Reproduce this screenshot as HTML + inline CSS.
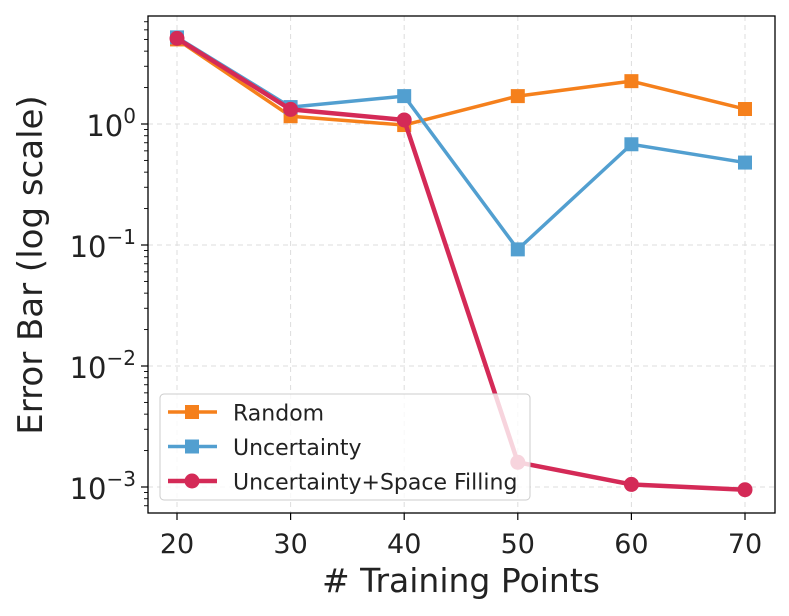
<!DOCTYPE html>
<html><head><meta charset="utf-8"><style>
body{margin:0;background:#fff;}
svg{display:block;font-family:"DejaVu Sans","Liberation Sans",sans-serif;}
</style></head><body>
<svg id="chart" width="789" height="616"></svg>
<script>
const categories=[20,30,40,50,60,70];
const randomVals=[5.0,1.16,0.98,1.7,2.26,1.33];
const uncertaintyVals=[5.2,1.38,1.7,0.092,0.68,0.48];
const usfVals=[5.1,1.32,1.08,0.0016,0.00105,0.00095];
const yTickExps=[0,-1,-2,-3];
const xTickLabels=["20","30","40","50","60","70"];

const NS="http://www.w3.org/2000/svg";
const svg=document.getElementById('chart');
const L=148,R=775,T=16,B=513;
function xs(v){return 177+(v-20)*(745-177)/50;}
function ys(v){return 124-Math.log10(v)*121;}
function mk(tag,attrs,parent){const e=document.createElementNS(NS,tag);for(const k in attrs)e.setAttribute(k,attrs[k]);(parent||svg).appendChild(e);return e;}

const grid=mk('g',{});


categories.forEach(c=>{mk('line',{x1:xs(c),x2:xs(c),y1:T,y2:B,stroke:'#ddd','stroke-dasharray':'5,4','stroke-width':1},grid);});
yTickExps.forEach(e=>{const y=ys(Math.pow(10,e));mk('line',{x1:L,x2:R,y1:y,y2:y,stroke:'#ddd','stroke-dasharray':'5,4','stroke-width':1},grid);});

const ax=mk('g',{});


categories.forEach((c,i)=>{
  mk('line',{x1:xs(c),x2:xs(c),y1:B,y2:B+7,stroke:'#000','stroke-width':1.2},ax);
  const t=mk('text',{x:xs(c),y:553,'text-anchor':'middle','font-size':27,fill:'#222'},ax);
  t.textContent=xTickLabels[i];
  
  
});
yTickExps.forEach(e=>{
  const y=ys(Math.pow(10,e));
  mk('line',{x1:L-7,x2:L,y1:y,y2:y,stroke:'#000','stroke-width':1.2},ax);
  const t=mk('text',{x:L-12,y:y+12,'text-anchor':'end','font-size':29,fill:'#222'},ax);
  t.innerHTML='10<tspan dy="-13" font-size="20">'+(e===0?'0':'\u2212'+Math.abs(e))+'</tspan>';
  
  
});
for(let e=-4;e<=0;e++){for(let m=2;m<=9;m++){const v=m*Math.pow(10,e);const y=ys(v);if(y>T&&y<B)mk('line',{x1:L-4,x2:L,y1:y,y2:y,stroke:'#000','stroke-width':0.9},ax);}}
mk('rect',{x:L,y:T,width:R-L,height:B-T,fill:'none',stroke:'#000','stroke-width':1.3},ax);
const xl=mk('text',{x:461,y:592,'text-anchor':'middle','font-size':33,fill:'#222'});
xl.textContent='# Training Points';


const yl=mk('text',{x:0,y:0,transform:'translate(42,265) rotate(-90)','text-anchor':'middle','font-size':34,fill:'#222'});
yl.textContent='Error Bar (log scale)';



const series=[
 {name:'random',vals:randomVals,color:'#f5801c',marker:'sq',w:3.5},
 {name:'uncertainty',vals:uncertaintyVals,color:'#529fd0',marker:'sq',w:3.5},
 {name:'uncertainty-space-filling',vals:usfVals,color:'#d42a57',marker:'ci',w:4.5}
];
series.forEach(s=>{
  const g=mk('g',{});
  
  
  const pts=categories.map((c,i)=>xs(c)+','+ys(s.vals[i])).join(' ');
  mk('polyline',{points:pts,fill:'none',stroke:s.color,'stroke-width':s.w,'stroke-linejoin':'round'},g);
  categories.forEach((c,i)=>{
    let m;
    if(s.marker==='sq')m=mk('rect',{x:xs(c)-7,y:ys(s.vals[i])-7,width:14,height:14,fill:s.color},g);
    else m=mk('circle',{cx:xs(c),cy:ys(s.vals[i]),r:7.5,fill:s.color},g);
    
    
  });
});

const lg=mk('g',{});


mk('rect',{x:160,y:394,width:370,height:106,rx:4,fill:'rgba(255,255,255,0.8)',stroke:'#ccc'},lg);
const labels=['Random','Uncertainty','Uncertainty+Space Filling'];
series.forEach((s,i)=>{
  const y=412+i*34.5;
  const e=mk('g',{},lg);
  
  
  mk('line',{x1:168,x2:217,y1:y,y2:y,stroke:s.color,'stroke-width':s.w},e);
  if(s.marker==='sq')mk('rect',{x:185,y:y-7,width:14,height:14,fill:s.color},e);
  else mk('circle',{cx:192,cy:y,r:7.5,fill:s.color},e);
  const t=mk('text',{x:233,y:y+8.5,'font-size':22,fill:'#222'},e);
  t.textContent=labels[i];
});
</script>
</body></html>
